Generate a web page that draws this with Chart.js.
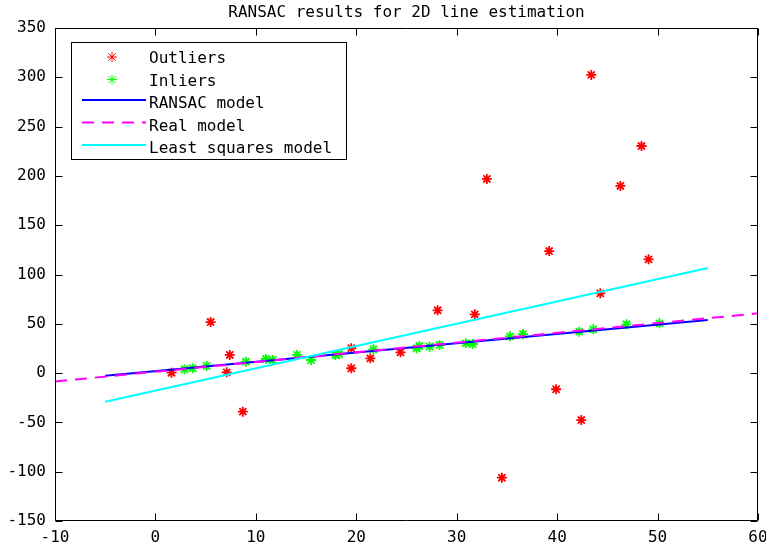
<!DOCTYPE html>
<html>
<head>
<meta charset="utf-8">
<title>RANSAC results for 2D line estimation</title>
<script src="https://cdn.jsdelivr.net/npm/chart.js@4/dist/chart.umd.min.js"></script>
<style>
  html, body { margin:0; padding:0; background:#fff; }
  canvas { display:block; }
</style>
</head>
<body>
<canvas id="chart" width="766" height="544"></canvas>
<script>
const TITLE = 'RANSAC results for 2D line estimation';
const FONT = 'DejaVu Sans Mono';

const xTicks = [-10, 0, 10, 20, 30, 40, 50, 60];
const yTicks = [-150, -100, -50, 0, 50, 100, 150, 200, 250, 300, 350];

const outlierX = [1.6, 5.5, 7.4, 7.1, 8.7, 19.5, 19.5, 21.4, 24.4, 28.1, 31.8, 33.0, 34.5, 39.2, 39.9, 42.4, 43.4, 44.3, 46.3, 48.4, 49.1];
const outlierY = [0.4, 51.8, 18.4, 0.8, -39.1, 25.2, 4.9, 15.0, 21.1, 63.7, 59.6, 196.9, -106.1, 123.8, -16.4, -47.6, 302.4, 80.9, 189.8, 230.3, 115.4];

const inlierX = [2.9, 3.7, 5.1, 9.0, 11.0, 11.7, 14.1, 15.5, 17.9, 18.3, 21.7, 26.0, 26.3, 27.3, 28.3, 30.9, 31.6, 35.3, 36.6, 42.2, 43.6, 46.9, 50.2];
const inlierY = [3.9, 4.9, 7.2, 11.6, 14.3, 13.3, 18.4, 13.3, 18.4, 19.4, 24.1, 25.2, 27.5, 26.8, 28.5, 30.2, 29.5, 37.3, 39.4, 42.0, 44.4, 49.5, 50.5];

const ransacX = [-5, 55];
const ransacY = [-2.6, 53.9];
const realX = [-10, 60];
const realY = [-8.5, 60.6];
const lsqX = [-5, 55];
const lsqY = [-29, 106.6];

const pts = (xs, ys) => xs.map((x, i) => ({ x, y: ys[i] }));

const legendItems = [
  { label:'Outliers', kind:'marker', color:'#ff0000' },
  { label:'Inliers', kind:'marker', color:'#00ff00' },
  { label:'RANSAC model', kind:'line', color:'#0000ff', dash:[] },
  { label:'Real model', kind:'line', color:'#ff00ff', dash:[12, 8] },
  { label:'Least squares model', kind:'line', color:'#00ffff', dash:[] }
];

// box round the plot with inward ticks on all four sides
const axesBox = {
  id: 'axesBox',
  afterDatasetsDraw(chart) {
    const { ctx, chartArea:a, scales:{ x, y } } = chart;
    const L = Math.round(a.left) + 0.5, R = Math.round(a.right) - 0.5;
    const T = Math.round(a.top) + 0.5, B = Math.round(a.bottom) - 0.5;
    ctx.save();
    ctx.strokeStyle = '#000';
    ctx.lineWidth = 1;
    ctx.beginPath();
    ctx.rect(L, T, R - L, B - T);
    xTicks.forEach(v => {
      const px = Math.round(x.getPixelForValue(v)) + 0.5;
      ctx.moveTo(px, B); ctx.lineTo(px, B - 7);
      ctx.moveTo(px, T); ctx.lineTo(px, T + 7);
    });
    yTicks.forEach(v => {
      const py = Math.round(y.getPixelForValue(v)) + 0.5;
      ctx.moveTo(L, py); ctx.lineTo(L + 7, py);
      ctx.moveTo(R, py); ctx.lineTo(R - 7, py);
    });
    ctx.stroke();

    // title centred over the plot box, like the original figure
    ctx.fillStyle = '#000';
    ctx.font = `16px "${FONT}"`;
    ctx.textAlign = 'center';
    ctx.textBaseline = 'middle';
    ctx.fillText(TITLE, (a.left + a.right) / 2, 13);
    ctx.restore();
  }
};

const legendBox = {
  id: 'legendBox',
  afterDraw(chart) {
    const ctx = chart.ctx;
    const bx = 71.5, by = 42.5, bw = 275, bh = 117;
    ctx.save();
    ctx.fillStyle = '#fff';
    ctx.fillRect(bx, by, bw, bh);
    ctx.strokeStyle = '#000';
    ctx.lineWidth = 1;
    ctx.strokeRect(bx, by, bw, bh);
    ctx.font = `16px "${FONT}"`;
    ctx.textBaseline = 'middle';
    ctx.textAlign = 'left';
    legendItems.forEach((it, i) => {
      const ry = 57 + i * 22.5;
      if (it.kind === 'marker') {
        ctx.strokeStyle = it.color;
        Chart.helpers.drawPoint(ctx, { pointStyle:'star', radius:5, borderWidth:1.5, rotation:0 }, 112, ry);
      } else {
        ctx.strokeStyle = it.color;
        ctx.lineWidth = 2;
        ctx.setLineDash(it.dash);
        ctx.beginPath();
        ctx.moveTo(82, ry - 2);
        ctx.lineTo(146, ry - 2);
        ctx.stroke();
        ctx.setLineDash([]);
      }
      ctx.fillStyle = '#000';
      ctx.fillText(it.label, 149, ry + 2);
    });
    ctx.restore();
  }
};

const tickFont = { family: FONT, size: 16 };

new Chart(document.getElementById('chart').getContext('2d'), {
  type: 'scatter',
  data: {
    datasets: [
      { label:'Outliers', data: pts(outlierX, outlierY), order:5,
        pointStyle:'star', pointRadius:5, pointBorderWidth:1.8, borderColor:'#ff0000', backgroundColor:'#ff0000' },
      { label:'Inliers', data: pts(inlierX, inlierY), order:4,
        pointStyle:'star', pointRadius:5, pointBorderWidth:1.8, borderColor:'#00ff00', backgroundColor:'#00ff00' },
      { label:'RANSAC model', data: pts(ransacX, ransacY), order:3, showLine:true,
        pointRadius:0, borderColor:'#0000ff', borderWidth:2 },
      { label:'Real model', data: pts(realX, realY), order:2, showLine:true,
        pointRadius:0, borderColor:'#ff00ff', borderWidth:2, borderDash:[12, 8] },
      { label:'Least squares model', data: pts(lsqX, lsqY), order:1, showLine:true,
        pointRadius:0, borderColor:'#00ffff', borderWidth:2 }
    ]
  },
  options: {
    responsive: false,
    animation: false,
    devicePixelRatio: 1,
    layout: { padding: { left:0, right:8, top:28, bottom:0 } },
    plugins: {
      legend: { display:false },
      tooltip: { enabled:false },
      title: { display:false }
    },
    scales: {
      x: {
        type:'linear', min:-10, max:60,
        afterBuildTicks: s => { s.ticks = xTicks.map(v => ({ value:v })); },
        ticks: { color:'#000', font: tickFont, padding:7, maxRotation:0, autoSkip:false },
        grid: { display:false, drawTicks:false },
        border: { display:false },
        afterFit: s => { s.height = 23; s.paddingLeft = 0; s.paddingRight = 0; }
      },
      y: {
        type:'linear', min:-150, max:350,
        afterBuildTicks: s => { s.ticks = yTicks.map(v => ({ value:v })); },
        ticks: { color:'#000', font: tickFont, padding:9, autoSkip:false },
        grid: { display:false, drawTicks:false },
        border: { display:false },
        afterFit: s => { s.width = 55; s.paddingTop = 0; s.paddingBottom = 0; }
      }
    }
  },
  plugins: [axesBox, legendBox]
});
</script>
</body>
</html>
